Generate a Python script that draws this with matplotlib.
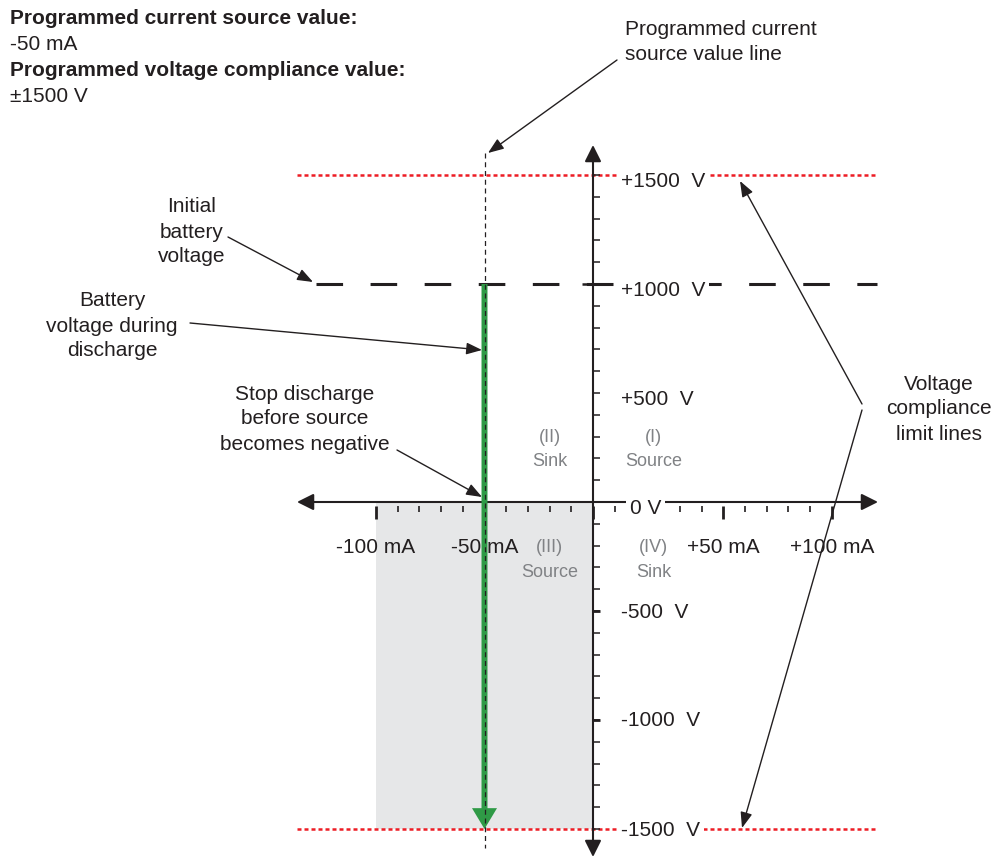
import matplotlib.pyplot as plt
from matplotlib.patches import FancyArrowPatch, Rectangle

plt.rcParams['font.family'] = ['Liberation Sans', 'DejaVu Sans']

# chart values
set_current = -50        # mA
start_voltage = 1000     # V
compliance = 1500        # V
x_major = [-100, -50, 0, 60, 110]
x_major_labels = ['-100 mA', '-50 mA', '', '+50 mA', '+100 mA']
x_minor = [-90, -80, -70, -60, -40, -30, -20, -10, 10, 20, 30, 40, 50, 70, 80, 90, 100]
y_minor = [v for v in range(-1500, 1600, 100) if v not in (0, 1000)]
y_major = [1000]
y_bold = [-500, -1000]
y_label_vals = [1500, 1000, 500, 0, -500, -1000, -1500]
y_label_text = ['+1500  V', '+1000  V', '+500  V', '0 V', '-500  V', '-1000  V', '-1500  V']
quad_labels = ['(II)\nSink', '(I)\nSource', '(III)\nSource', '(IV)\nSink']
quad_pos = [(-20, 240), (28, 240), (-20, -266), (28, -266)]

# layout (pixels)
W, H = 993, 858
X0, Y0 = 593, 502
SX, SY = 2.17, 0.218   # px per mA, px per V
INK = '#231f20'
GREY_TXT = '#808285'
RED = '#ed1c24'
GREEN = '#2f9a46'
FS = 15


def px(x, y):
    return (x, H - y)


fig = plt.figure(figsize=(W / 100, H / 100), dpi=100)
ax = fig.add_axes([0, 0, 1, 1])
ax.set_xlim((0 - X0) / SX, (W - X0) / SX)
ax.set_ylim((Y0 - H) / SY, Y0 / SY)
ax.axis('off')

x_ends = ((297 - X0) / SX, (878 - X0) / SX)
y_ends = ((Y0 - 857) / SY, (Y0 - 145) / SY)

# shaded quadrant III region used by the discharge
ax.add_patch(Rectangle((-100, -compliance), 100, compliance, facecolor='#e6e7e8',
                       edgecolor='none', zorder=0))

# compliance limit lines
for v in (compliance, -compliance):
    ax.plot([x_ends[0], (877 - X0) / SX], [v, v], color=RED, lw=1.8,
            ls=(0, (1.6, 1.2)), zorder=2)

# initial battery voltage
ax.plot([(316 - X0) / SX, (877 - X0) / SX], [start_voltage, start_voltage], color=INK,
        lw=2.2, ls=(0, (8.7, 9.0)), dash_capstyle='butt', zorder=2)

# axes with arrows
ax.add_patch(FancyArrowPatch((x_ends[0], 0), (x_ends[1], 0),
                             arrowstyle='<|-|>,head_length=10,head_width=5',
                             mutation_scale=1, color=INK, lw=1.5, shrinkA=0, shrinkB=0, zorder=3))
ax.add_patch(FancyArrowPatch((0, y_ends[0]), (0, y_ends[1]),
                             arrowstyle='<|-|>,head_length=10,head_width=5',
                             mutation_scale=1, color=INK, lw=1.5, shrinkA=0, shrinkB=0, zorder=3))

# ticks
ax.vlines(x_minor, -4 / SY, -10 / SY, color=INK, lw=1.2, zorder=3)
ax.vlines(x_major, -4 / SY, -17 / SY, color=INK, lw=2.0, zorder=3)
ax.hlines(y_minor, 0, 7 / SX, color=INK, lw=1.1, zorder=3)
ax.hlines(y_bold, 0, 7 / SX, color=INK, lw=2.0, zorder=3)
ax.hlines(y_major, -11 / SX, 16 / SX, color=INK, lw=1.8, zorder=3)

for t, lab in zip(x_major, x_major_labels):
    ax.annotate(lab, xy=(t, -206), xytext=(0, -1), textcoords='offset pixels',
                ha='center', va='center', fontsize=FS, color=INK, zorder=3)

for v, lab in zip(y_label_vals, y_label_text):
    lx = 17 if v == 0 else 13
    dy = -7 if v > 0 else (-6 if v == 0 else -1)
    box = None
    if v in (0, start_voltage, compliance, -compliance):
        box = dict(facecolor='white', edgecolor='none', pad=2.5)
    ax.annotate(lab, xy=(lx, v), xytext=(0, dy), textcoords='offset pixels',
                ha='left', va='center', fontsize=FS, color=INK, bbox=box, zorder=6)

for lab, (qx, qy) in zip(quad_labels, quad_pos):
    ax.text(qx, qy, lab, ha='center', va='center', fontsize=13, color=GREY_TXT,
            linespacing=1.55, zorder=3)

# battery voltage during discharge
ax.add_patch(FancyArrowPatch((set_current, start_voltage), (set_current, -compliance),
                             arrowstyle='simple,head_length=15,head_width=18,tail_width=4.3',
                             mutation_scale=1, color=GREEN, lw=0, shrinkA=0, shrinkB=0, zorder=4))

# programmed current source value line
ax.plot([set_current, set_current], [(Y0 - 153) / SY, (Y0 - 848) / SY], color=INK,
        lw=0.9, ls=(0, (4, 3)), zorder=5)

# header text
info = [('Programmed current source value:', 'bold', 18),
        ('-50 mA', 'normal', 44),
        ('Programmed voltage compliance value:', 'bold', 71),
        ('±1500 V', 'normal', 97)]
for txt, wt, yy in info:
    ax.annotate(txt, xy=px(10, yy), xycoords='figure pixels', ha='left', va='center',
                fontsize=FS, fontweight=wt, color=INK)

notes = [('Programmed current\nsource value line', 625, 42, 'left'),
         ('Initial\nbattery\nvoltage', 192, 232, 'center'),
         ('Battery\nvoltage during\ndischarge', 112, 326, 'center'),
         ('Stop discharge\nbefore source\nbecomes negative', 305, 419, 'center'),
         ('Voltage\ncompliance\nlimit lines', 939, 409, 'center')]
for txt, nx, ny, ha in notes:
    ax.annotate(txt, xy=px(nx, ny), xycoords='figure pixels', ha=ha, va='center',
                fontsize=FS, color=INK, linespacing=1.4,
                multialignment='center' if ha == 'center' else 'left')

pointers = [((617, 60), (488, 153)),
            ((228, 237), (313, 282)),
            ((190, 323), (482, 350)),
            ((397, 450), (482, 497)),
            ((862, 404), (740, 181)),
            ((862, 410), (742, 828))]
for start, tip in pointers:
    ax.annotate('', xy=px(*tip), xycoords='figure pixels', xytext=px(*start),
                textcoords='figure pixels',
                arrowprops=dict(arrowstyle='-|>,head_length=9.5,head_width=3.6', mutation_scale=1,
                                color=INK, lw=1.0, shrinkA=0, shrinkB=0), zorder=7)

fig.savefig('out.png', dpi=100)
